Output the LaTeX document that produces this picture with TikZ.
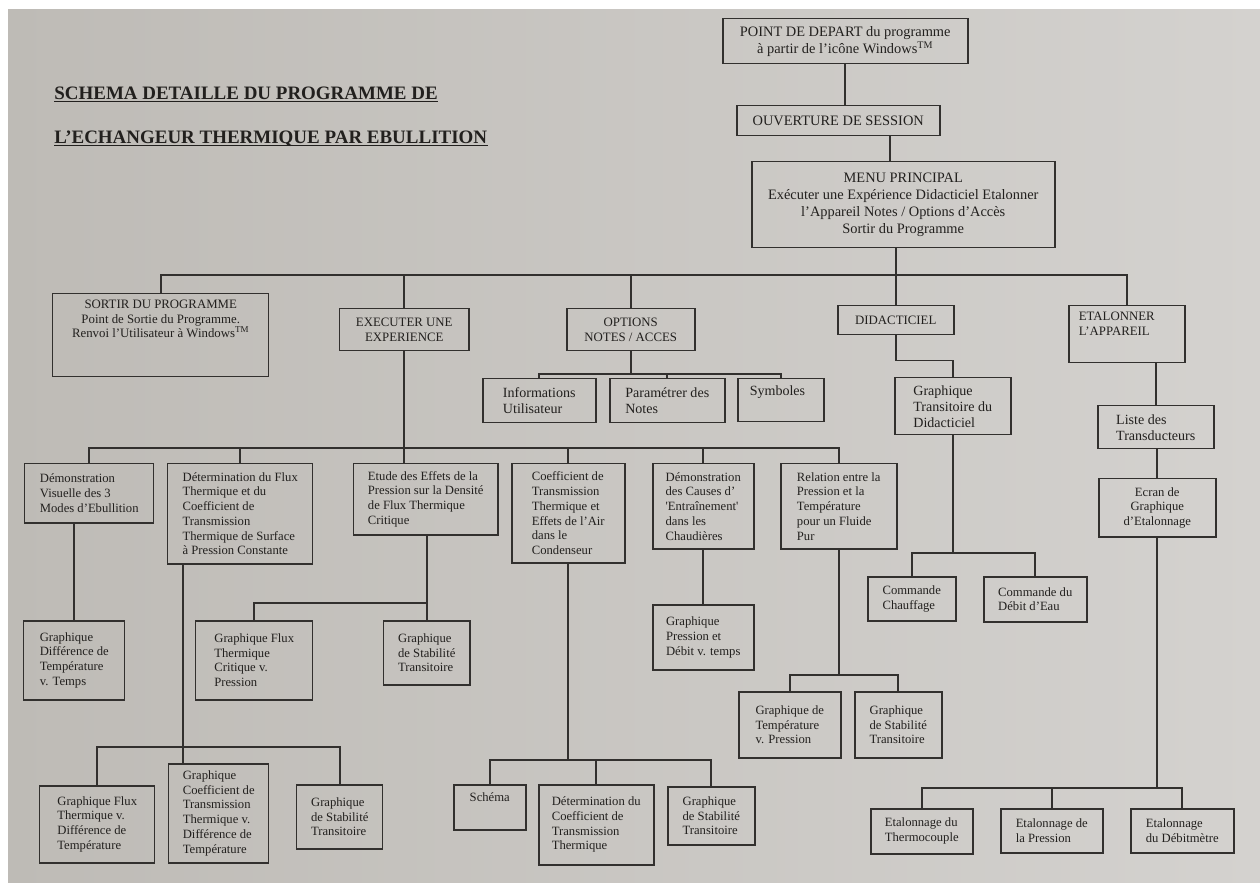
\documentclass[tikz,border=0pt]{standalone}
\usepackage{fontspec}
\setmainfont{Liberation Serif}

\newlength{\pxu}
\setlength{\pxu}{0.02cm} % one pixel of the scan

\definecolor{ink}{RGB}{34,32,30}
\definecolor{rule}{RGB}{50,48,46}
\definecolor{paperL}{RGB}{190,187,182}
\definecolor{paperR}{RGB}{212,210,207}

\tikzset{
	box/.style={draw=rule, line width=0.85pt, anchor=north west, inner sep=0pt, align=left, text=ink, font=\fontsize{7.2}{8.4}\selectfont}, % every small box of the tree
	wh/.style 2 args={minimum width=#1\pxu, minimum height=#2\pxu}, % size of a box, in pixels
	head/.style={box, align=center, font=\fontsize{8.2}{9.6}\selectfont}, % the three boxes at the top
	branch/.style={box, align=center, font=\fontsize{7.3}{8.3}\selectfont}, % the entries of the main menu
	big/.style={box, font=\fontsize{8}{9.1}\selectfont},
	link/.style={draw=rule, line width=1.1pt, line cap=rect},
	title/.style={anchor=base west, inner sep=0pt, text=ink, font=\bfseries\fontsize{10.8}{13}\selectfont},
	uline/.style={draw=ink, line width=0.8pt},
}

\begin{document}
\begin{tikzpicture}[x=0.02cm, y=-0.02cm]
	% the sheet of paper
	\fill[white] (0,0) rectangle (1260,882);
	\shade[left color=paperL, right color=paperR] (8,10) rectangle (1260,882);
	\useasboundingbox (0,0) rectangle (1260,882);

	%% Title
	\node[title] (TitreA) at (54,99) {SCHEMA DETAILLE DU PROGRAMME DE};
	\node[title] (TitreB) at (54,143) {L’ECHANGEUR THERMIQUE PAR EBULLITION};
	\draw[uline] ([yshift=-2.5\pxu]TitreA.base west) -- ([yshift=-2.5\pxu]TitreA.base east);
	\draw[uline] ([yshift=-2.5\pxu]TitreB.base west) -- ([yshift=-2.5\pxu]TitreB.base east);

	%% Start of the program
	\node[head, wh={245}{45}] (Start) at (722,18) {POINT DE DEPART du programme\\ à partir de l’icône Windows\textsuperscript{TM}};
	\node[head, wh={203}{30}] (Session) at (736,105) {OUVERTURE DE SESSION};
	\node[head, wh={303}{86}] (Menu) at (751,161) {MENU PRINCIPAL\\ Exécuter une Expérience Didacticiel Etalonner\\ l’Appareil Notes / Options d’Accès\\ Sortir du Programme};

	%% Entries of the main menu
	\node[branch, wh={216}{83}] (Sortir) at (52,293) {\parbox[c][70\pxu][t]{210\pxu}{\centering SORTIR DU PROGRAMME\\ Point de Sortie du Programme.\\ Renvoi l’Utilisateur à Windows\textsuperscript{TM}}};
	\node[branch, wh={129}{42}] (Executer) at (339,308) {EXECUTER UNE\\ EXPERIENCE};
	\node[branch, wh={128}{42}] (Options) at (566,308) {OPTIONS\\ NOTES / ACCES};
	\node[branch, wh={116}{29}] (Didacticiel) at (837,305) {DIDACTICIEL};
	\node[branch, wh={116}{57}] (Etalonner) at (1068,305) {\parbox[c][44\pxu][t]{96\pxu}{\raggedright ETALONNER\\ L’APPAREIL}};

	% notes and access
	\node[big, wh={113}{44}] (Infos) at (482,378) {Informations\\ Utilisateur};
	\node[big, wh={115}{44}] (Parametres) at (609,378) {Paramétrer des\\ Notes};
	\node[big, wh={86}{43}] (Symboles) at (737,378) {\parbox[c][30\pxu][t]{62\pxu}{Symboles}};

	% tutorial
	\node[big, wh={116}{57}] (Transitoire) at (894,377) {Graphique\\ Transitoire du\\ Didacticiel};
	\node[box, wh={88}{44}] (Chauffage) at (867,576) {Commande\\ Chauffage};
	\node[box, wh={103}{45}] (Eau) at (983,576) {Commande du\\ Débit d’Eau};

	% calibration
	\node[big, wh={116}{43}] (Transducteurs) at (1097,405) {Liste des\\ Transducteurs};
	\node[box, align=center, wh={117}{58}] (Ecran) at (1098,478) {Ecran de\\ Graphique\\ d’Etalonnage};
	\node[box, wh={102}{45}] (Thermo) at (870,808) {Etalonnage du\\ Thermocouple};
	\node[box, wh={102}{44}] (PressionEt) at (1000,808) {Etalonnage de\\ la Pression};
	\node[box, wh={103}{44}] (Debit) at (1130,808) {Etalonnage\\ du Débitmètre};

	%% Experiments
	\node[box, wh={129}{59}] (Demo) at (24,463) {Démonstration\\ Visuelle des 3\\ Modes d’Ebullition};
	\node[box, wh={145}{100}] (Flux) at (167,463) {Détermination du Flux\\ Thermique et du\\ Coefficient de\\ Transmission\\ Thermique de Surface\\ à Pression Constante};
	\node[box, wh={144}{71}] (Etude) at (353,463) {Etude des Effets de la\\ Pression sur la Densité\\ de Flux Thermique\\ Critique};
	\node[box, wh={113}{99}] (Condenseur) at (511,463) {Coefficient de\\ Transmission\\ Thermique et\\ Effets de l’Air\\ dans le\\ Condenseur};
	\node[box, wh={101}{85}] (Causes) at (652,463) {Démonstration\\ des Causes d’\\ \textquotesingle Entraînement\textquotesingle\\ dans les\\ Chaudières};
	\node[box, wh={116}{85}] (Relation) at (780,463) {Relation entre la\\ Pression et la\\ Température\\ pour un Fluide\\ Pur};

	% graphs of the experiments
	\node[box, wh={101}{79}] (GDiff) at (23,620) {Graphique\\ Différence de\\ Température\\ v. Temps};
	\node[box, wh={117}{79}] (GCritique) at (195,620) {Graphique Flux\\ Thermique\\ Critique v.\\ Pression};
	\node[box, wh={86}{64}] (GStabEtude) at (383,620) {Graphique\\ de Stabilité\\ Transitoire};
	\node[box, wh={101}{65}] (GPression) at (652,604) {Graphique\\ Pression et\\ Débit v. temps};
	\node[box, wh={102}{66}] (GTemp) at (738,691) {Graphique de\\ Température\\ v. Pression};
	\node[box, wh={87}{66}] (GStabRel) at (854,691) {Graphique\\ de Stabilité\\ Transitoire};

	\node[box, wh={115}{77}] (GFluxV) at (39,785) {Graphique Flux\\ Thermique v.\\ Différence de\\ Température};
	\node[box, wh={100}{99}] (GCoef) at (168,763) {Graphique\\ Coefficient de\\ Transmission\\ Thermique v.\\ Différence de\\ Température};
	\node[box, wh={86}{64}] (GStabFlux) at (296,784) {Graphique\\ de Stabilité\\ Transitoire};
	\node[box, align=center, wh={72}{45}] (Schema) at (453,784) {\parbox[c][30\pxu][t]{60\pxu}{\centering Schéma}};
	\node[box, wh={115}{80}] (DetCoef) at (538,784) {Détermination du\\ Coefficient de\\ Transmission\\ Thermique};
	\node[box, wh={87}{58}] (GStabCond) at (667,786) {Graphique\\ de Stabilité\\ Transitoire};

	%% heights of the horizontal buses
	\coordinate (BusMenu) at (0,275);
	\coordinate (BusOptions) at (0,374);
	\coordinate (BusExp) at (0,448);
	\coordinate (BusDid) at (0,553);
	\coordinate (BusEtude) at (0,603);
	\coordinate (BusRel) at (0,675);
	\coordinate (BusFlux) at (0,747);
	\coordinate (BusCond) at (0,760);
	\coordinate (BusEt) at (0,788);

	%% Connectors
	\draw[link] (Start.south) -- (Start.south |- Session.north);
	\draw[link] ([xshift=52\pxu]Session.south) -- ([xshift=52\pxu]Session.south |- Menu.north);
	\draw[link] (Didacticiel.north) -- (Didacticiel.north |- Menu.south);
	\draw[link] (Sortir.north) -- (Sortir.north |- BusMenu) -| (Etalonner.north);
	\draw[link] (Executer.north) -- (Executer.north |- BusMenu);
	\draw[link] (Options.north) -- (Options.north |- BusMenu);

	\draw[link] (Options.south) -- (Options.south |- BusOptions);
	\draw[link] (Infos.north) -- (Infos.north |- BusOptions) -| (Symboles.north);
	\draw[link] (Parametres.north) -- (Parametres.north |- BusOptions);

	\draw[link] (Didacticiel.south) -- ++(0,25) -| (Transitoire.north);
	\draw[link] (Transitoire.south) -- (Transitoire.south |- BusDid);
	\draw[link] (Chauffage.north) -- (Chauffage.north |- BusDid) -| (Eau.north);

	\draw[link] (Transducteurs.north) -- (Transducteurs.north |- Etalonner.south);
	\draw[link] (Ecran.north) -- (Ecran.north |- Transducteurs.south);
	\draw[link] (Ecran.south) -- (Ecran.south |- BusEt);
	\draw[link] (Thermo.north) -- (Thermo.north |- BusEt) -| (Debit.north);
	\draw[link] (PressionEt.north) -- (PressionEt.north |- BusEt);

	% experiments
	\draw[link] (Executer.south) -- (Executer.south |- Etude.north);
	\draw[link] (Demo.north) -- (Demo.north |- BusExp) -| (Relation.north);
	\draw[link] (Flux.north) -- (Flux.north |- BusExp);
	\draw[link] (Condenseur.north) -- (Condenseur.north |- BusExp);
	\draw[link] (Causes.north) -- (Causes.north |- BusExp);

	\draw[link] (GDiff.north) -- (GDiff.north |- Demo.south);
	\draw[link] ([xshift=-57\pxu]Flux.south) -- ([xshift=-57\pxu]Flux.south |- GCoef.north);
	\draw[link] (GFluxV.north) -- (GFluxV.north |- BusFlux) -| (GStabFlux.north);
	\draw[link] (GStabEtude.north) -- (GStabEtude.north |- Etude.south);
	\draw[link] (GCritique.north) -- (GCritique.north |- BusEtude) -- (GStabEtude.north |- BusEtude);
	\draw[link] (Condenseur.south) -- (Condenseur.south |- BusCond);
	\draw[link] (Schema.north) -- (Schema.north |- BusCond) -| (GStabCond.north);
	\draw[link] (DetCoef.north) -- (DetCoef.north |- BusCond);
	\draw[link] (Causes.south) -- (GPression.north);
	\draw[link] (Relation.south) -- (Relation.south |- BusRel);
	\draw[link] (GTemp.north) -- (GTemp.north |- BusRel) -| (GStabRel.north);
\end{tikzpicture}
\end{document}
